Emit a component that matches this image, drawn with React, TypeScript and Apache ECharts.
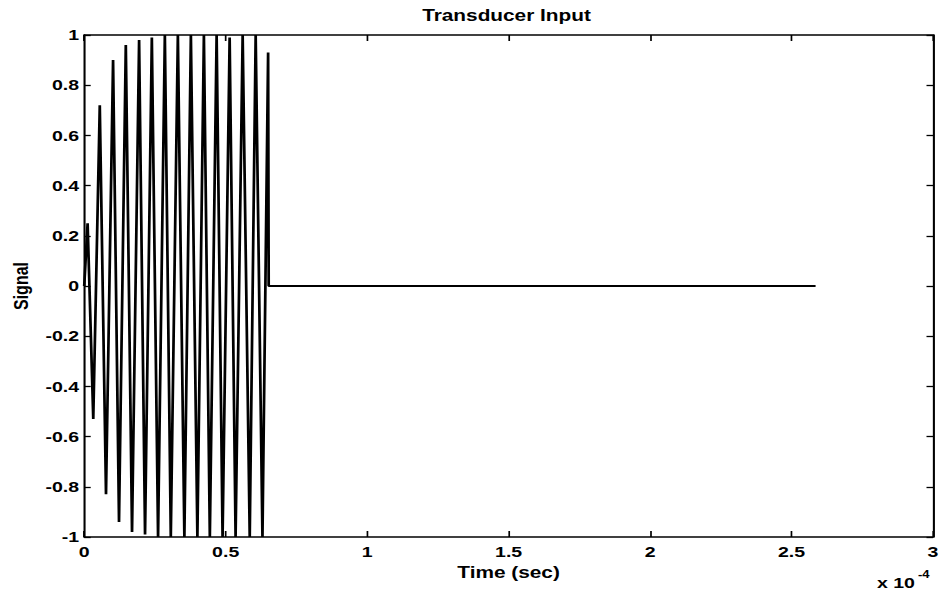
import React, { useEffect, useRef } from "react";
import * as echarts from "echarts";

// Time in units of 1e-4 s (axis is labelled "x 10^-4")
const extremaTimes = [
  0, 0.012, 0.032, 0.055, 0.077, 0.102, 0.123, 0.147, 0.169, 0.194, 0.215, 0.239, 0.261,
  0.285, 0.306, 0.331, 0.354, 0.377, 0.4, 0.423, 0.444, 0.468, 0.489, 0.514, 0.535,
  0.56, 0.585, 0.606, 0.63, 0.65, 0.652, 2.585,
];
const extremaValues = [
  0, 0.25, -0.53, 0.72, -0.83, 0.9, -0.94, 0.96, -0.98, 0.98, -0.99, 0.99, -1,
  1, -1, 1, -1, 1, -1, 1, -1, 1, -1, 0.99, -1,
  1, -1, 1, -1, 0.93, 0, 0,
];
const xTicks = [0, 0.5, 1, 1.5, 2, 2.5, 3];
const yTicks = [-1, -0.8, -0.6, -0.4, -0.2, 0, 0.2, 0.4, 0.6, 0.8, 1];

const FONT = "'Liberation Sans', Arial, Helvetica, sans-serif";
// The reference is stretched horizontally; the chart is drawn narrower and stretched by CSS.
const INNER_W = 725;
const S = 943 / INNER_W;

export default function App() {
  const ref = useRef<HTMLDivElement>(null);
  useEffect(() => {
    if (!ref.current) return;
    const chart = echarts.init(ref.current, undefined, { renderer: "svg" });
    const data = extremaTimes.map((t, i) => [t, extremaValues[i]]);
    const axisCommon = {
      type: "value" as const,
      axisLine: { show: true, onZero: false, lineStyle: { color: "#000", width: 1.6 } },
      splitLine: { show: false },
    };
    const labelStyle = { fontFamily: FONT, fontSize: 15, fontWeight: "bold" as const, color: "#000" };
    chart.setOption({
      animation: false,
      backgroundColor: "#fff",
      grid: { left: 80 / S, right: 10 / S, top: 35, bottom: 55 },
      xAxis: [
        {
          ...axisCommon,
          position: "bottom",
          min: xTicks[0],
          max: xTicks[xTicks.length - 1],
          interval: 0.5,
          axisTick: { show: true, inside: true, length: 6, lineStyle: { color: "#000", width: 1.3 } },
          name: "Time (sec)",
          nameLocation: "middle",
          nameGap: 26,
          nameTextStyle: { fontFamily: FONT, fontSize: 16, fontWeight: "bold", color: "#000" },
          axisLabel: { ...labelStyle, margin: 7 },
        },
        {
          ...axisCommon,
          position: "top",
          min: xTicks[0],
          max: xTicks[xTicks.length - 1],
          interval: 0.5,
          axisTick: { show: true, inside: true, length: 6, lineStyle: { color: "#000", width: 1.3 } },
          axisLabel: { show: false },
        },
      ],
      yAxis: [
        {
          ...axisCommon,
          position: "left",
          min: yTicks[0],
          max: yTicks[yTicks.length - 1],
          interval: 0.2,
          axisTick: { show: true, inside: true, length: 5, lineStyle: { color: "#000", width: 1.3 } },
          name: "Signal",
          nameLocation: "middle",
          nameGap: 53 / S,
          nameTextStyle: { fontFamily: FONT, fontSize: 16, fontWeight: "bold", color: "#000" },
          axisLabel: { ...labelStyle, margin: 4 },
        },
        {
          ...axisCommon,
          position: "right",
          min: yTicks[0],
          max: yTicks[yTicks.length - 1],
          interval: 0.2,
          axisTick: { show: true, inside: true, length: 5, lineStyle: { color: "#000", width: 1.3 } },
          axisLabel: { show: false },
        },
      ],
      graphic: [
        {
          type: "text",
          x: 506.5 / S,
          y: 7,
          style: {
            text: "Transducer Input",
            fontFamily: FONT,
            fontSize: 16,
            fontWeight: "bold",
            fill: "#000",
            textAlign: "center",
            textVerticalAlign: "top",
          },
        },
        {
          type: "text",
          x: 877 / S,
          y: 575,
          style: {
            text: "x 10",
            fontFamily: FONT,
            fontSize: 15,
            fontWeight: "bold",
            fill: "#000",
            textVerticalAlign: "top",
          },
        },
        {
          type: "text",
          x: 918 / S,
          y: 569,
          style: {
            text: "-4",
            fontFamily: FONT,
            fontSize: 10,
            fontWeight: "bold",
            fill: "#000",
            textVerticalAlign: "top",
          },
        },
      ],
      series: [
        {
          type: "line",
          xAxisIndex: 0,
          yAxisIndex: 0,
          data,
          symbol: "none",
          smooth: false,
          lineStyle: { color: "#000", width: 2.1 },
        },
      ],
    });
    return () => chart.dispose();
  }, []);
  return (
    <div
      style={{
        position: "fixed",
        left: 0,
        top: 0,
        width: 943,
        height: 592,
        overflow: "hidden",
        background: "#fff",
      }}
    >
      <div
        ref={ref}
        style={{
          width: INNER_W,
          height: 592,
          transform: `scaleX(${S})`,
          transformOrigin: "0 0",
        }}
      />
    </div>
  );
}
